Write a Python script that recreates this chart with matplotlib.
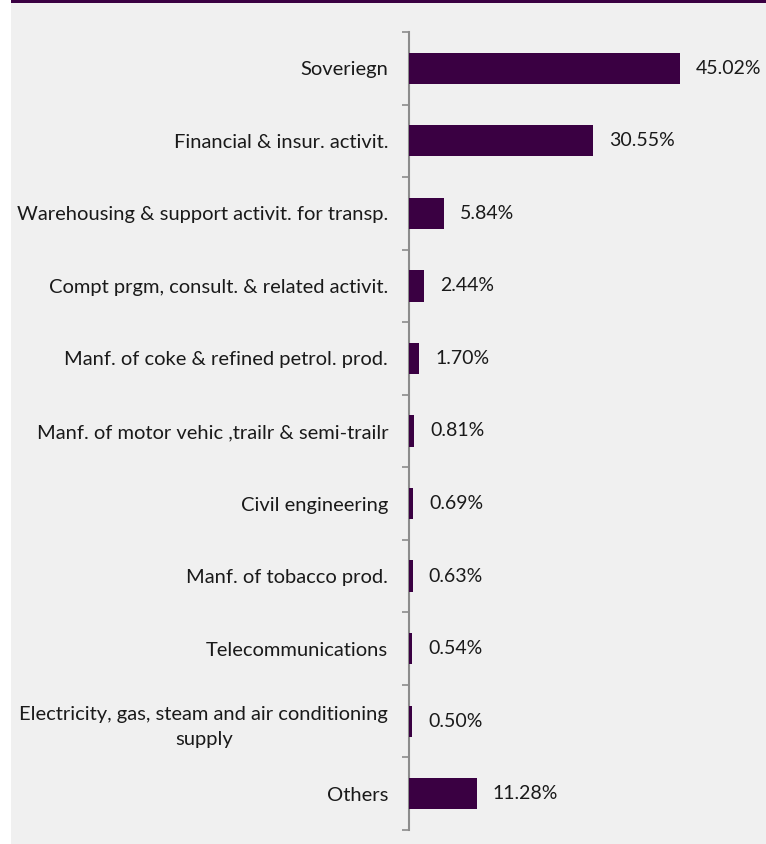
import matplotlib
matplotlib.use("Agg")
import matplotlib.pyplot as plt
from matplotlib.patches import Rectangle

categories = [
    "Soveriegn",
    "Financial & insur. activit.",
    "Warehousing & support activit. for transp.",
    "Compt prgm, consult. & related activit.",
    "Manf. of coke & refined petrol. prod.",
    "Manf. of motor vehic ,trailr & semi-trailr",
    "Civil engineering",
    "Manf. of tobacco prod.",
    "Telecommunications",
    "Electricity, gas, steam and air conditioning\nsupply",
    "Others",
]
shares = [45.02, 30.55, 5.84, 2.44, 1.70, 0.81, 0.69, 0.63, 0.54, 0.50, 11.28]

bar_color = "#3a0042"
panel_color = "#f0f0f0"
axis_color = "#8c8c8c"

plt.rcParams["font.family"] = ["Lato", "DejaVu Sans"]

W, H = 766, 844
fig = plt.figure(figsize=(W / 100, H / 100), dpi=100, facecolor="white")

# background panel and top band
fig.patches.append(Rectangle((11 / W, 0), 1 - 11 / W, 1 - 3 / H,
                             transform=fig.transFigure, facecolor=panel_color,
                             edgecolor="none", zorder=-10))
fig.patches.append(Rectangle((11 / W, 1 - 3 / H), 1 - 11 / W, 3 / H,
                             transform=fig.transFigure, facecolor=bar_color,
                             edgecolor="none", zorder=-10))

ax_left, ax_right = 409 / W, 1.0
ax_bottom, ax_top = (H - 830) / H, (H - 32) / H
ax = fig.add_axes([ax_left, ax_bottom, ax_right - ax_left, ax_top - ax_bottom])
ax.set_facecolor("none")
ax.set_zorder(1)

n = len(categories)
ypos = list(range(n))
ax.barh(ypos, shares, height=0.43, color=bar_color, zorder=3)
ax.set_ylim(n - 0.5, -0.5)
ax.set_xlim(0, (W - 409) / 6.02)

for y, v in zip(ypos, shares):
    ax.text(v + 16 / 6.02, y, f"{v:.2f}%", va="center", ha="left",
            fontsize=14, color="#1a1a1a")

ax.set_yticks(ypos)
ax.set_yticklabels(categories, fontsize=14.5, color="#1a1a1a", ha="right",
                   multialignment="center", linespacing=1.6)
ax.tick_params(axis="y", which="major", length=0, pad=15)
ax.set_yticks([i - 0.5 for i in range(n + 1)], minor=True)
ax.tick_params(axis="y", which="minor", length=5, width=1.2, color=axis_color,
               direction="out")
ax.set_xticks([])
for s in ["top", "right", "bottom"]:
    ax.spines[s].set_visible(False)
ax.spines["left"].set_color(axis_color)
ax.spines["left"].set_linewidth(1.5)

fig.savefig("out.png", dpi=100, facecolor=fig.get_facecolor())
